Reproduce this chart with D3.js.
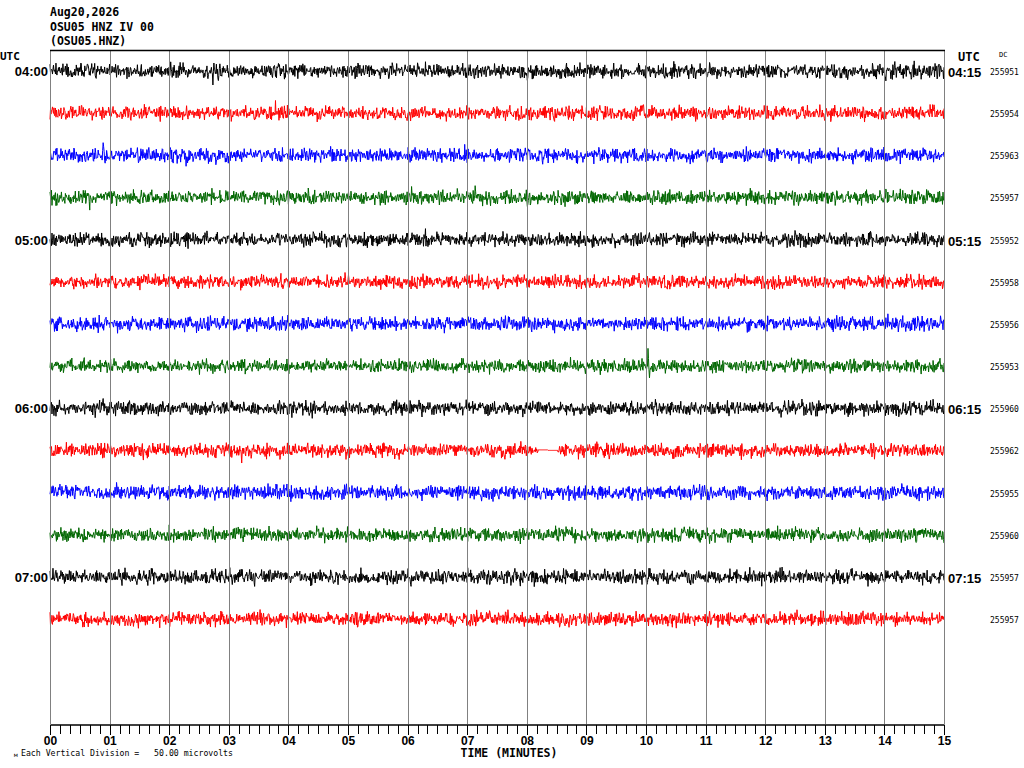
<!DOCTYPE html>
<html><head><meta charset="utf-8">
<script src="https://cdn.jsdelivr.net/npm/d3@7"></script>
<style>body{margin:0;background:#fff}svg{display:block}</style>
</head><body><svg id="c" width="1024" height="768"></svg>
<script>
// ---------- data ----------
const titleLines = ["Aug20,2026", "OSU05 HNZ IV 00", "(OSU05.HNZ)"];
const rowColors = ["#000000", "#ff0000", "#0000ff", "#006600"];
const leftLabels = ["04:00","","","","05:00","","","","06:00","","","","07:00",""];
const rightLabels = ["04:15","","","","05:15","","","","06:15","","","","07:15",""];
const dcValues = [255951,255954,255963,255957,255952,255958,255956,255953,255960,255962,255955,255960,255957,255957];
const tickLabels = ["00","01","02","03","04","05","06","07","08","09","10","11","12","13","14","15"];
const xAxisTitle = "TIME (MINUTES)";
const scaleNote = "Each Vertical Division =   50.00 microvolts";
const microvoltsPerDivision = 50;
// noise level (microvolts, ~1 sigma) per row, one value per minute
const envelope = [
  [4.0,4.0,4.2,4.0,4.0,4.0,4.0,4.0,4.0,4.0,4.0,4.0,4.0,4.2,4.8],
  [4.0,4.0,4.0,4.0,4.0,4.0,3.9,4.0,4.0,4.0,4.0,4.0,4.0,4.0,4.0],
  [4.1,4.0,4.0,4.0,4.0,4.0,4.0,4.0,4.0,4.0,4.0,4.0,4.0,4.1,4.0],
  [4.0,4.0,4.0,4.0,4.0,4.0,4.0,4.0,4.0,4.0,4.0,4.0,4.0,4.0,4.2],
  [4.0,4.0,4.0,4.0,4.0,4.0,4.1,4.0,4.0,4.0,4.0,4.0,4.0,4.0,4.0],
  [3.8,3.8,3.8,3.8,3.8,3.8,3.8,3.8,3.8,3.8,3.8,3.8,3.8,3.8,3.8],
  [4.0,4.0,4.0,4.0,4.0,4.0,4.0,4.0,4.0,4.0,4.0,4.0,4.0,4.2,4.0],
  [3.8,3.8,3.8,3.8,3.8,3.8,3.8,3.8,3.8,3.8,3.8,3.8,3.8,3.8,3.8],
  [4.0,4.0,4.0,4.0,4.0,4.0,4.0,4.0,4.0,4.0,4.0,4.0,4.0,4.0,4.2],
  [4.0,4.0,4.0,4.2,4.0,4.0,4.0,4.0,4.0,4.0,4.0,4.0,4.0,4.0,4.0],
  [4.2,4.2,4.0,4.0,4.0,4.0,4.0,4.0,4.0,4.0,4.0,4.0,4.0,4.0,4.0],
  [4.0,4.0,4.0,4.0,4.0,4.0,4.0,4.0,4.0,4.0,4.0,4.0,4.0,4.0,4.0],
  [4.2,4.2,4.2,4.2,4.2,4.2,4.2,4.2,4.2,4.2,4.2,4.2,4.2,4.2,4.2],
  [4.0,4.0,4.0,4.0,4.0,4.0,4.0,4.0,4.0,4.0,4.0,4.0,4.0,4.0,4.0]
];
// notable spikes: [row, minute, microvolts]
const spikes = [
  [0,2.73,-16.6],[0,6.30,11],[0,14.5,12],
  [1,3.78,15],[1,1.85,-10],
  [2,0.89,15],[2,2.28,-13],[2,6.96,13],
  [3,7.13,14],[3,6.07,13],[3,0.67,-15],[3,2.72,11],
  [4,6.30,13],
  [5,4.95,11],
  [6,14.06,12],[6,8.47,-11],
  [7,10.03,21],[7,10.06,-14],
  [8,4.40,-12],
  [9,3.22,-15],
  [10,1.12,12],
  [11,7.89,-11],
  [12,3.02,11],[12,7.89,-11],
  [13,7.68,11]
];
// flat (dead) segments: [row, startMinute, endMinute]
const gaps = [[9, 8.19, 8.52]];
const samplesPerMinute = 120;

// ---------- layout ----------
const svg = d3.select("#c");
const x = d3.scaleLinear().domain([0, 15]).range([50, 944]);
const rowY = d3.scaleLinear().domain([0, 13]).range([71, 619]);
const rowStep = rowY(1) - rowY(0);
const amp = d3.scaleLinear().domain([0, microvoltsPerDivision]).range([0, rowStep]);
const plotTop = 50, plotBottom = 724;

// deterministic fine texture for the seismic noise
function texture(i, r) {
  const h = k => { const s = Math.sin(k * 12.9898 + r * 78.233 + 0.5) * 43758.5453; return s - Math.floor(s); };
  return (h(i) + h(i + 7919.3) + h(i + 3571.7) - 1.5) * 2;
}

const traceG = svg.append("g");
envelope.forEach((env, r) => {
  const n = 15 * samplesPerMinute;
  const pts = [];
  for (let i = 0; i <= n; i++) {
    const t = i / samplesPerMinute;
    const e = env[Math.min(14, Math.floor(t))];
    let v = e * texture(i, r);
    gaps.forEach(g => { if (g[0] === r && t >= g[1] && t <= g[2]) v = t < (g[1] + g[2]) / 2 ? 0.6 : 0; });
    pts.push({t, v});
  }
  spikes.filter(s => s[0] === r).forEach(s => {
    const i = Math.round(s[1] * samplesPerMinute);
    pts[i].v = s[2];
  });
  const line = d3.line().x(d => x(d.t)).y(d => rowY(r) - amp(d.v));
  traceG.append("path").attr("d", line(pts))
    .attr("fill", "none").attr("stroke", rowColors[r % 4]).attr("stroke-width", 1);
});

// gridlines (over traces)
svg.append("g").selectAll("line").data(d3.range(0, 16)).join("line")
  .attr("x1", d => Math.round(x(d)) + 0.5).attr("x2", d => Math.round(x(d)) + 0.5)
  .attr("y1", plotTop).attr("y2", plotBottom)
  .attr("stroke", "#808080").attr("stroke-width", 1);

// top border
svg.append("line").attr("x1", x(0)).attr("x2", x(15) + 1).attr("y1", plotTop + 0.5).attr("y2", plotTop + 0.5)
  .attr("stroke", "#000").attr("stroke-width", 1.5);

// axes
const minorAxis = d3.axisBottom(x).tickValues(d3.range(0, 91).map(k => k / 6))
  .tickFormat("").tickSize(9).tickSizeOuter(0);
const majorAxis = d3.axisBottom(x).tickValues(d3.range(0, 16))
  .tickFormat((d, i) => tickLabels[i]).tickSize(10).tickSizeOuter(0);
const gMinor = svg.append("g").attr("transform", `translate(0,${plotBottom + 0.5})`).call(minorAxis);
const gMajor = svg.append("g").attr("transform", `translate(0,${plotBottom + 0.5})`).call(majorAxis);
[gMinor, gMajor].forEach(g => {
  g.select(".domain").attr("stroke", "#000");
  g.selectAll(".tick line").attr("stroke", "#000").attr("shape-rendering", "crispEdges");
});
gMajor.selectAll(".tick text").attr("font-family", "Liberation Sans, Arial, sans-serif")
  .attr("font-weight", "bold").attr("font-size", 12).attr("fill", "#000").attr("y", 12);

// texts
const mono = "DejaVu Sans Mono, monospace";
svg.append("g").selectAll("text").data(titleLines).join("text")
  .attr("x", 50).attr("y", (d, i) => [16, 31, 45][i])
  .attr("font-family", mono).attr("font-weight", "bold").attr("font-size", 11.5).text(d => d);

svg.append("text").attr("x", 0).attr("y", 60).attr("font-family", mono).attr("font-weight", "bold")
  .attr("font-size", 11).text("UTC");
svg.append("text").attr("x", 958).attr("y", 61).attr("font-family", mono).attr("font-weight", "bold")
  .attr("font-size", 12).text("UTC");
svg.append("text").attr("x", 999).attr("y", 57).attr("font-family", mono)
  .attr("font-size", 7).text("DC");

const sansB = "Liberation Sans, Arial, sans-serif";
svg.append("g").selectAll("text").data(leftLabels).join("text")
  .attr("x", 48).attr("y", (d, i) => rowY(i) + 5).attr("text-anchor", "end")
  .attr("font-family", sansB).attr("font-weight", "bold").attr("font-size", 13).text(d => d);
svg.append("g").selectAll("text").data(rightLabels).join("text")
  .attr("x", 948).attr("y", (d, i) => rowY(i) + 6)
  .attr("font-family", sansB).attr("font-weight", "bold").attr("font-size", 13).text(d => d);
svg.append("g").selectAll("text").data(dcValues).join("text")
  .attr("x", 990).attr("y", (d, i) => rowY(i) + 4)
  .attr("font-family", mono).attr("font-size", 8).text(d => d);

svg.append("text").attr("x", (x(0) + x(15)) / 2 + 12).attr("y", 757).attr("text-anchor", "middle")
  .attr("font-family", mono).attr("font-weight", "bold").attr("font-size", 11.5).text(xAxisTitle);
svg.append("text").attr("x", 21).attr("y", 756).attr("xml:space", "preserve").style("white-space", "pre")
  .attr("font-family", mono).attr("font-size", 8.2).text(scaleNote);
svg.append("text").attr("x", 14).attr("y", 757).attr("font-family", mono).attr("font-size", 6).text("м");
</script>
</body></html>
